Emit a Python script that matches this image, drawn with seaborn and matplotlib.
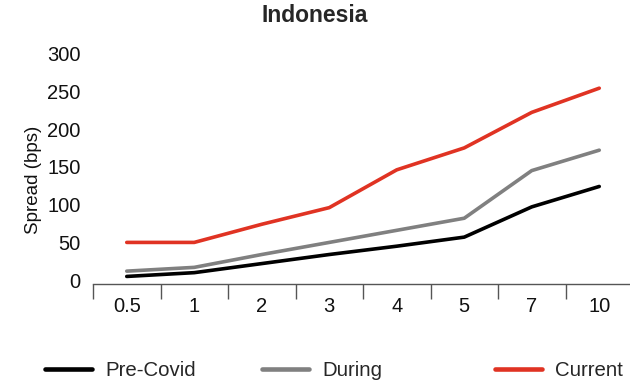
import matplotlib
matplotlib.use("Agg")
import matplotlib.pyplot as plt
from matplotlib.lines import Line2D
from matplotlib.ticker import FixedLocator
import numpy as np
import pandas as pd
import seaborn as sns

# Tenor buckets (years) and spread levels in basis points
tenors = ["0.5", "1", "2", "3", "4", "5", "7", "10"]
pre_covid = [5, 10, 22, 34, 45, 57, 97, 124]
during = [12, 17, 34, 50, 66, 82, 145, 172]
current = [50, 50, 74, 96, 146, 175, 222, 254]

series_names = ["Pre-Covid", "During", "Current"]
series_colors = ["#000000", "#808080", "#E03323"]

df = pd.DataFrame({
    "tenor": tenors * 3,
    "spread": pre_covid + during + current,
    "series": np.repeat(series_names, len(tenors)),
})

sns.set_theme(style="white")
plt.rcParams["font.family"] = ["Liberation Sans", "DejaVu Sans"]

W, H = 630, 382
fig = plt.figure(figsize=(W / 100, H / 100), dpi=100)
left_px, right_px, bottom_px, top_px = 93, 633, 284, 53.4
ax = fig.add_axes([left_px / W, 1 - bottom_px / H,
                   (right_px - left_px) / W, (bottom_px - top_px) / H])

sns.lineplot(data=df, x="tenor", y="spread", hue="series",
             palette=dict(zip(series_names, series_colors)),
             hue_order=series_names, sort=False, linewidth=2.6,
             legend=False, ax=ax)

ax.set_xlim(-0.5, len(tenors) - 0.5)
ax.set_ylim(-5, 300)
ax.set_yticks([0, 50, 100, 150, 200, 250, 300])
ax.set_xticks(range(len(tenors)))
ax.set_xticklabels(tenors)
ax.xaxis.set_minor_locator(FixedLocator(np.arange(-0.5, len(tenors), 1.0)))

for side in ["top", "right", "left"]:
    ax.spines[side].set_visible(False)
ax.spines["bottom"].set_color("#555555")
ax.spines["bottom"].set_linewidth(1.0)

ax.tick_params(axis="x", which="major", length=0, pad=9, labelsize=14.5,
               labelcolor="#111111")
ax.tick_params(axis="x", which="minor", length=11, width=1.0,
               color="#555555", direction="out", bottom=True)
ax.tick_params(axis="y", length=0, pad=9, labelsize=14.5, labelcolor="#111111")
ax.grid(False)

ax.set_xlabel("")
ax.set_ylabel("Spread (bps)", fontsize=13.5, color="#111111")
ax.yaxis.set_label_coords((42 - left_px) / (right_px - left_px), 0.45)

fig.suptitle("Indonesia", fontsize=16.5, fontweight="bold", y=1 - 15 / H,
             va="center")

# Legend entries placed along the bottom of the figure
legend_x = [45, 262, 495]
for name, color, xp in zip(series_names, series_colors, legend_x):
    handle = Line2D([], [], color=color, linewidth=3.3)
    fig.legend([handle], [name], loc="center left",
               bbox_to_anchor=(xp / W, 1 - 371 / H), frameon=False,
               fontsize=14.7, handlelength=2.3, handletextpad=0.64,
               borderpad=0, borderaxespad=0)

fig.savefig("out.png", dpi=100)
